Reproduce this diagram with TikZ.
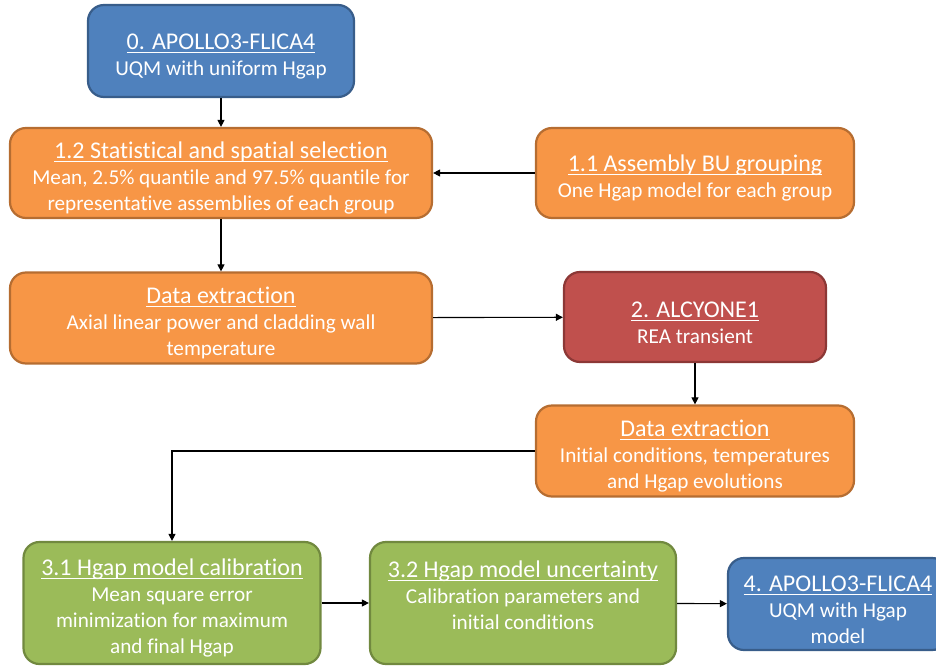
\documentclass[tikz,border=0pt]{standalone}
\usepackage{fontspec}
\setmainfont{Carlito}[Ligatures=NoCommon]
\usetikzlibrary{arrows.meta}
\definecolor{bluefill}{HTML}{4F81BD}
\definecolor{blueline}{HTML}{385D8A}
\definecolor{orangefill}{HTML}{F79646}
\definecolor{orangeline}{HTML}{B66D31}
\definecolor{redfill}{HTML}{C0504D}
\definecolor{redline}{HTML}{8C3836}
\definecolor{greenfill}{HTML}{9BBB59}
\definecolor{greenline}{HTML}{71893F}
\newcommand\bodyfont{\fontsize{21.2}{26}\selectfont}
\newcommand\ttl[1]{\setbox0\hbox{\fontsize{24}{26}\selectfont #1}\rule{0pt}{27pt}\rlap{\rule[-3.5pt]{\wd0}{1.2pt}}\box0}
\begin{document}
\begin{tikzpicture}[x=1pt,y=-1pt,
  box/.style={draw, line width=2.2pt, rounded corners=16pt, text=white, align=center, font=\bodyfont, inner sep=0pt},
  bluebox/.style={box, fill=bluefill, draw=blueline},
  orangebox/.style={box, fill=orangefill, draw=orangeline},
  redbox/.style={box, fill=redfill, draw=redline},
  greenbox/.style={box, fill=greenfill, draw=greenline},
  arr/.style={-{Triangle[length=7pt,width=7pt]}, line width=1.1pt}]
\useasboundingbox (0,0) rectangle (936,666);
\clip (0,0) rectangle (936,666);
\node[bluebox, minimum width=266pt, minimum height=92pt] (apollo) at (221,51) {\ttl{0. APOLLO3-FLICA4}\\UQM with uniform Hgap};
\node[orangebox, minimum width=422pt, minimum height=90pt] (selection) at (221,173) {\ttl{1.2 Statistical and spatial selection}\\Mean, 2.5\% quantile and 97.5\% quantile for\\representative assemblies of each group};
\node[orangebox, minimum width=318pt, minimum height=90pt] (grouping) at (695,173) {\ttl{1.1 Assembly BU grouping}\\One Hgap model for each group};
\node[orangebox, minimum width=422pt, minimum height=91pt] (extraction) at (221,318) {\ttl{Data extraction}\\Axial linear power and cladding wall\\temperature};
\node[redbox, minimum width=262pt, minimum height=90pt] (alcyone) at (695,317) {\ttl{2. ALCYONE1}\\REA transient};
\node[orangebox, minimum width=318pt, minimum height=91pt] (extraction2) at (695,451) {\ttl{Data extraction}\\Initial conditions, temperatures\\and Hgap evolutions};
\node[greenbox, minimum width=297pt, minimum height=122pt] (calib) at (172,603) {\ttl{3.1 Hgap model calibration}\\Mean square error\\minimization for maximum\\and final Hgap};
\node[greenbox, minimum width=306pt, minimum height=122pt] (uncert) at (523,603) {\ttl{3.2 Hgap model uncertainty}\\Calibration parameters and\\initial conditions\\\mbox{}};
\node[bluebox, minimum width=220pt, minimum height=92pt] (apollo2) at (838,604) {\ttl{4. APOLLO3-FLICA4}\\UQM with Hgap\\model};
\draw[arr] (apollo) -- (selection);
\draw[arr] (grouping) -- (selection);
\draw[arr] (selection) -- (extraction);
\draw[arr] (extraction) -- (alcyone);
\draw[arr] (alcyone) -- (extraction2);
\draw[arr] (extraction2.west) -| (calib.north);
\draw[arr] (calib) -- (uncert);
\draw[arr] (uncert) -- (apollo2);
\end{tikzpicture}
\end{document}
